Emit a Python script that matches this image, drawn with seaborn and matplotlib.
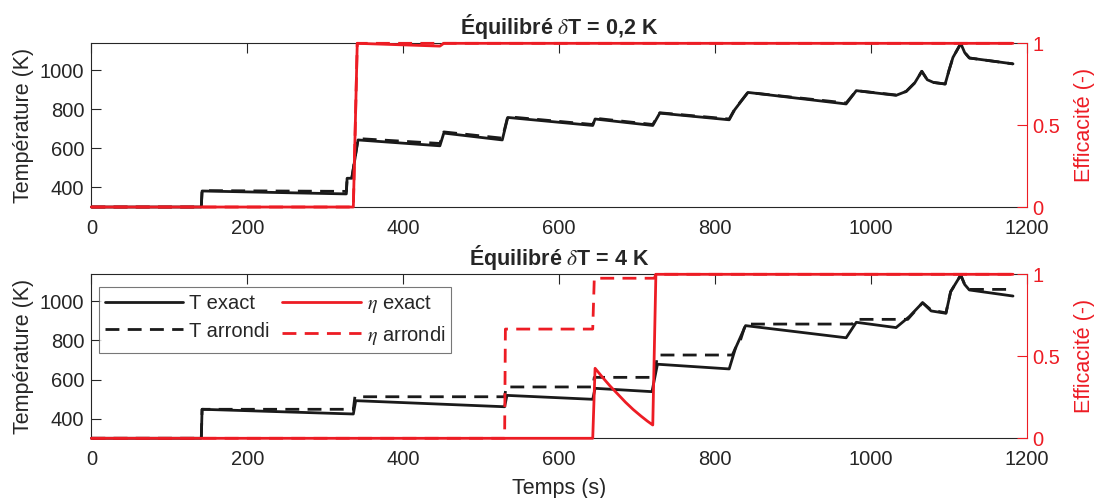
import seaborn as sns
import matplotlib.pyplot as plt

# ---- Équilibré δT = 0,2 K ----
t_T_exact_02 = [0, 141, 142, 327, 328, 334, 342, 447, 452, 527, 534, 643, 646, 720, 729,
                818, 825, 842, 968, 981, 1032, 1045, 1056, 1065, 1072, 1080, 1095, 1100,
                1105, 1115, 1120, 1126, 1182]
T_exact_02 = [300, 300, 382, 367, 447, 447, 643, 613, 678, 643, 758, 717, 750, 717, 780,
              746, 797, 886, 827, 895, 871, 891, 935, 994, 951, 937, 929, 1000,
              1065, 1136, 1090, 1062, 1032]

t_T_arr_02 = [0, 141, 142, 327, 328, 334, 342, 447, 452, 527, 534, 643, 646, 720, 729,
              818, 825, 842, 968, 981, 1032, 1045, 1056, 1065, 1072, 1080, 1095, 1100,
              1105, 1115, 1120, 1126, 1182]
T_arr_02 = [300, 300, 384, 380, 447, 447, 650, 625, 684, 652, 762, 722, 754, 722, 782,
            750, 800, 886, 832, 895, 873, 891, 935, 994, 951, 937, 929, 1000,
            1065, 1136, 1090, 1062, 1032]

t_eta_exact_02 = [0, 336, 341, 447, 452, 1182]
eta_exact_02 = [0, 0, 1.0, 0.983, 1.0, 1.0]

t_eta_arr_02 = [0, 336, 341, 1182]
eta_arr_02 = [0, 0, 1.0, 1.0]

# ---- Équilibré δT = 4 K ----
t_T_exact_4 = [0, 141, 142, 336, 339, 530, 533, 643, 646, 719, 726, 818, 826, 839,
               968, 981, 1032, 1049, 1066, 1077, 1096, 1102, 1115, 1120, 1126, 1182]
T_exact_4 = [300, 300, 448, 424, 492, 461, 519, 499, 555, 538, 678, 654, 759, 875,
             813, 892, 865, 921, 992, 950, 938, 1048, 1133, 1085, 1057, 1026]

t_T_arr_4 = [0, 141, 142, 336, 338, 530, 532, 643, 645, 722, 726, 822, 826, 832, 839,
             976, 980, 1047, 1066, 1077, 1096, 1102, 1115, 1120, 1126, 1182]
T_arr_4 = [300, 300, 448, 448, 512, 512, 562, 562, 611, 611, 725, 725, 760, 795, 883,
           883, 907, 907, 992, 955, 940, 1048, 1133, 1085, 1060, 1060]

t_eta_exact_4 = [0, 643, 646, 655, 665, 675, 685, 695, 705, 713, 720, 724, 1182]
eta_exact_4 = [0, 0, 0.427, 0.375, 0.32, 0.27, 0.22, 0.175, 0.135, 0.105, 0.081, 1.0, 1.0]

t_eta_arr_4 = [0, 530, 531, 643, 645, 722, 724, 1182]
eta_arr_4 = [0, 0, 0.666, 0.666, 0.976, 0.976, 1.0, 1.0]

titles = [r'Équilibré $\delta$T = 0,2 K', r'Équilibré $\delta$T = 4 K']
x_ticks = [0, 200, 400, 600, 800, 1000, 1200]
T_ticks = [400, 600, 800, 1000]
eta_ticks = [0, 0.5, 1]
eta_labels = ['0', '0.5', '1']
legend_labels = ['T exact', 'T arrondi', r'$\eta$ exact', r'$\eta$ arrondi']

RED = '#ED1C24'
BLACK = '#1A1A1A'
GREY = '#262626'
DASH = (0, (5, 3))

sns.set_style('white')
plt.rcParams['font.family'] = ['Liberation Sans', 'DejaVu Sans']
plt.rcParams['mathtext.fontset'] = 'stix'


def draw(ax, x, y, color, ls):
    sns.lineplot(x=x, y=y, ax=ax, color=color, linestyle=ls, linewidth=2,
                 estimator=None, sort=False, legend=False)
    line = ax.lines[-1]
    line.set_clip_on(False)
    return line


def panel(rect, title, temps, etas, xlabel=False, legend=False):
    ax = fig.add_axes(rect)
    ax2 = ax.twinx()
    handles = []
    for (x, y), ls in zip(temps, ['-', DASH]):
        handles.append(draw(ax, x, y, BLACK, ls))
    for (x, y), ls in zip(etas, ['-', DASH]):
        handles.append(draw(ax2, x, y, RED, ls))

    ax.set_xlim(0, 1200)
    ax.set_ylim(300, 1137)
    ax.set_xticks(x_ticks)
    ax.set_yticks(T_ticks)
    ax2.set_ylim(0, 1)
    ax2.set_yticks(eta_ticks)
    ax2.set_yticklabels(eta_labels)

    ax.tick_params(axis='both', direction='in', length=7, width=0.8, colors=GREY,
                   labelsize=14.5, top=True, pad=5)
    ax.tick_params(axis='x', pad=8.5)
    ax.tick_params(axis='y', right=False)
    ax2.tick_params(axis='y', direction='in', length=7, width=0.8, colors=RED,
                    labelsize=14.5, pad=4)
    for s in ['left', 'top', 'bottom']:
        ax.spines[s].set_color(GREY)
        ax.spines[s].set_linewidth(0.8)
        ax2.spines[s].set_visible(False)
    ax.spines['right'].set_visible(False)
    ax2.spines['right'].set_color(RED)
    ax2.spines['right'].set_linewidth(0.8)

    ax.set_ylabel('Température (K)', fontsize=15.5, color=GREY)
    ax.yaxis.set_label_coords(-0.061, 0.5)
    ax2.set_ylabel('Efficacité (-)', fontsize=15.5, color=RED)
    ax2.yaxis.set_label_coords(1.05, 0.5)
    ax.set_title(title, fontsize=15.5, fontweight='bold', color=GREY, pad=6.5)
    if xlabel:
        ax.set_xlabel('Temps (s)', fontsize=15.5, color=GREY)
        ax.xaxis.set_label_coords(0.5, -0.245)
    if legend:
        leg = ax2.legend(handles, legend_labels, ncol=2, loc='upper left',
                         bbox_to_anchor=(0.008, 0.92), fontsize=14.5, frameon=True,
                         fancybox=False, edgecolor='#555555', handlelength=3.9,
                         columnspacing=0.6, handletextpad=0.3, borderpad=0.3,
                         labelspacing=0.4, borderaxespad=0)
        leg.get_frame().set_linewidth(0.8)
        for txt in leg.get_texts():
            txt.set_color(GREY)
    return ax


fig = plt.figure(figsize=(10.94, 4.98), dpi=100)
panel([0.0835, 0.5843, 0.8553, 0.3287], titles[0],
      [(t_T_exact_02, T_exact_02), (t_T_arr_02, T_arr_02)],
      [(t_eta_exact_02, eta_exact_02), (t_eta_arr_02, eta_arr_02)])
panel([0.0835, 0.1199, 0.8553, 0.3293], titles[1],
      [(t_T_exact_4, T_exact_4), (t_T_arr_4, T_arr_4)],
      [(t_eta_exact_4, eta_exact_4), (t_eta_arr_4, eta_arr_4)],
      xlabel=True, legend=True)

fig.savefig('out.png', dpi=100)
